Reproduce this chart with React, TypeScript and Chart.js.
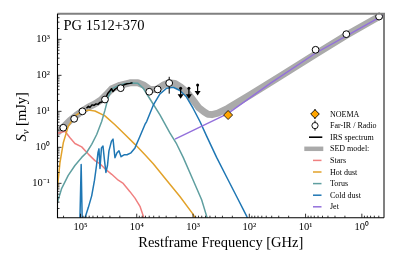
import React, { useEffect, useRef } from "react";
import { Chart, registerables } from "chart.js";

Chart.register(...registerables);

const FONT = "'Liberation Serif', 'Times New Roman', serif";

// ---------------- data: rest-frame frequency [GHz], flux density [mJy] ----------------
const X_TICK_EXPONENTS = [0, 1, 2, 3, 4, 5];
const Y_TICK_EXPONENTS = [-1, 0, 1, 2, 3];
const X_MIN = 0.404;
const X_MAX = 256000;
const Y_MIN = 0.0111;
const Y_MAX = 5120;

const OBJECT_NAME = "PG 1512+370";
const X_TITLE = "Restframe Frequency [GHz]";
const LEGEND_LABELS = ["NOEMA", "Far-IR / Radio", "IRS spectrum", "SED model:", "Stars", "Hot dust", "Torus", "Cold dust", "Jet"];

const FIR_FREQ = [202000, 129500, 92300, 36700, 19300, 6000, 4240, 2650, 6.64, 1.89, 0.494];
const FIR_FLUX = [3.5, 6.2, 10.0, 21.3, 44, 35, 40.6, 61, 512, 1390, 4300];
const FIR_ERR = [0.3, 0.5, 0.8, 1.5, 3, 3, 3, 30, 25, 60, 200];

const ULIM_FREQ = [1660, 1184, 829];
const ULIM_FLUX = [43.8, 43.8, 53.8];

const NOEMA_FREQ = [238];
const NOEMA_FLUX = [7.9];
const NOEMA_ERR = [0.8];

const IRS_FREQ = [78200, 72200, 67800, 62500, 57500, 53000, 48900, 45000, 41600, 39000, 36700, 34500, 32500, 29900, 28100, 26400, 24800, 22900, 21100, 19000, 16800, 14900, 13200, 11900];
const IRS_FLUX = [12.1, 13.8, 12.9, 15.1, 14.7, 16.1, 15.6, 17.7, 18.2, 20.0, 22.7, 26.5, 32.0, 37.4, 42.5, 35.2, 39.9, 43.8, 48.1, 49.7, 54.5, 58.1, 59.8, 61.8];

const SED_FREQ = [280000, 254000, 204000, 153500, 120000, 94200, 73500, 55300, 43200, 35300, 27600, 19900, 13200, 9540, 7440, 5820, 4380, 3425, 2680, 2093, 1640, 1284, 1003, 786, 639, 543, 461, 361, 241, 97.6, 28.6, 6.57, 1.92, 0.38];
const SED_FLUX = [2.3, 2.62, 3.58, 5.56, 7.59, 10.1, 12.9, 16.1, 20.7, 28.2, 42.5, 52.8, 61.8, 61.8, 52.8, 39.9, 41.1, 52.8, 61.8, 59.8, 46.6, 34.1, 20.7, 12.5, 9.75, 8.34, 8.09, 8.87, 12.1, 28.2, 92.7, 391, 1285, 5400];

const STARS_FREQ = [280000, 254000, 188500, 153500, 125500, 95200, 72600, 55300, 45000, 36700, 27850, 21300, 17400, 13200, 10750, 8760, 7660, 7150];
const STARS_FLUX = [2.3, 2.46, 2.79, 1.84, 1.28, 1.03, 0.649, 0.427, 0.348, 0.254, 0.178, 0.122, 0.0993, 0.0587, 0.0389, 0.023, 0.0123, 0.0079];

const HOT_FREQ = [269000, 254000, 231000, 202000, 165000, 125500, 95200, 72600, 55300, 36700, 24400, 16200, 10750, 7350, 5090, 2945, 1710, 994, 834];
const HOT_FLUX = [0.03, 0.0893, 0.384, 1.34, 3.82, 7.45, 9.75, 10.8, 10.2, 7.45, 4.25, 2.27, 1.21, 0.649, 0.348, 0.122, 0.043, 0.0137, 0.0079];

const TORUS_FREQ = [280000, 254000, 215500, 165000, 125500, 95200, 77700, 63200, 51500, 42000, 36700, 32000, 27850, 21300, 16200, 12300, 9540, 7660, 5820, 3870, 2580, 1955, 1495, 994, 703, 573, 525];
const TORUS_FLUX = [0.02, 0.0314, 0.0726, 0.167, 0.313, 0.525, 0.718, 1.21, 2.27, 5.21, 10.8, 24.9, 41.9, 51.9, 58.1, 61.0, 59.8, 43.8, 22.0, 7.93, 2.51, 1.24, 0.525, 0.122, 0.0349, 0.0123, 0.0079];

const COLD_FREQ = [104100, 97200, 92200, 84800, 72600, 63200, 56300, 51900, 48900, 46900, 45000, 42400, 39800, 37400, 35300, 33100, 31200, 28100, 26400, 24400, 22400, 20700, 19000, 16800, 14900, 12650, 10750, 8760, 7150, 6670, 5090, 3870, 2945, 2250, 1710, 1305, 994, 753, 573, 381, 253, 168, 111.5, 97.6];
const COLD_FLUX = [0.00286, 0.333, 0.0039, 0.01, 0.0212, 0.0449, 0.122, 0.313, 0.705, 0.906, 0.259, 0.964, 1.09, 0.427, 0.201, 0.313, 0.798, 1.49, 1.69, 0.515, 0.705, 0.798, 0.548, 0.621, 0.621, 0.705, 0.964, 2.04, 4.33, 5.21, 14.8, 30.6, 43.8, 46.6, 37.9, 24.9, 12.0, 5.21, 2.04, 0.525, 0.150, 0.043, 0.0123, 0.0069];

const JET_FREQ = [2093, 241, 42.5, 6.57, 0.38];
const JET_FLUX = [1.69, 8.6, 59.8, 417, 5050];

// ---------------- styling ----------------
const C_STARS = "#f08080";
const C_HOT = "#e2a22a";
const C_TORUS = "#5f9fa0";
const C_COLD = "#1f77b4";
const C_JET = "#9370db";
const C_SED = "#aaaaaa";
const C_NOEMA = "#ffa500";

const pts = (xs: number[], ys: number[]) => xs.map((x, i) => ({ x, y: ys[i] }));
const SUP = "⁻⁰¹²³⁴⁵⁶⁷⁸⁹";
const toSup = (s: string) => s.replace(/[-0-9]/g, (c) => SUP["-0123456789".indexOf(c)]);
const powLabel = (v: number) => "10" + toSup(String(Math.round(Math.log10(v))));

const lineDs = (label: string, xs: number[], ys: number[], color: string, width: number) => ({
  label,
  data: pts(xs, ys),
  showLine: true,
  borderColor: color,
  backgroundColor: color,
  borderWidth: width,
  pointRadius: 0,
  pointHoverRadius: 0,
  tension: 0,
  clip: 0,
  borderJoinStyle: "round" as const,
});

const overlayPlugin = {
  id: "overlay",
  beforeDatasetDraw(chart: any, args: any) {
    const ds = chart.data.datasets[args.index];
    const ctx = chart.ctx;
    const xs = chart.scales.x;
    const ys = chart.scales.y;
    ctx.save();
    ctx.strokeStyle = "#000";
    ctx.fillStyle = "#000";
    ctx.lineWidth = 1;
    const bars = (fx: number[], fy: number[], fe: number[]) => {
      fx.forEach((f, i) => {
        const px = xs.getPixelForValue(f);
        const y1 = ys.getPixelForValue(fy[i] + fe[i]);
        const y2 = ys.getPixelForValue(Math.max(fy[i] - fe[i], Y_MIN));
        ctx.beginPath();
        ctx.moveTo(px, y1);
        ctx.lineTo(px, y2);
        ctx.stroke();
      });
    };
    if (ds.label === "Far-IR / Radio") bars(FIR_FREQ, FIR_FLUX, FIR_ERR);
    if (ds.label === "NOEMA") bars(NOEMA_FREQ, NOEMA_FLUX, NOEMA_ERR);
    if (ds.label === "upper limits") {
      ULIM_FREQ.forEach((f, i) => {
        const px = xs.getPixelForValue(f);
        const py = ys.getPixelForValue(ULIM_FLUX[i]);
        ctx.lineWidth = 1.2;
        ctx.beginPath();
        ctx.moveTo(px, py);
        ctx.lineTo(px, py + 7);
        ctx.stroke();
        ctx.beginPath();
        ctx.moveTo(px - 3, py + 6);
        ctx.lineTo(px + 3, py + 6);
        ctx.lineTo(px, py + 10.5);
        ctx.closePath();
        ctx.fill();
      });
    }
    ctx.restore();
  },
  afterDatasetsDraw(chart: any) {
    const ctx = chart.ctx;
    const { left, right, top, bottom } = chart.chartArea;
    const xs = chart.scales.x;
    const ys = chart.scales.y;
    ctx.save();
    // ticks (inward)
    ctx.strokeStyle = "#000";
    ctx.lineWidth = 0.8;
    const xExp = [Math.floor(Math.log10(X_MIN)), Math.ceil(Math.log10(X_MAX))];
    for (let e = xExp[0]; e <= xExp[1]; e++) {
      for (let m = 1; m <= 9; m++) {
        const v = m * Math.pow(10, e);
        if (v < X_MIN || v > X_MAX) continue;
        const px = xs.getPixelForValue(v);
        const len = m === 1 ? 4 : 2;
        ctx.beginPath();
        ctx.moveTo(px, bottom);
        ctx.lineTo(px, bottom - len);
        ctx.stroke();
      }
    }
    const yExp = [Math.floor(Math.log10(Y_MIN)), Math.ceil(Math.log10(Y_MAX))];
    for (let e = yExp[0]; e <= yExp[1]; e++) {
      for (let m = 1; m <= 9; m++) {
        const v = m * Math.pow(10, e);
        if (v < Y_MIN || v > Y_MAX) continue;
        const py = ys.getPixelForValue(v);
        const len = m === 1 ? 4 : 2;
        ctx.beginPath();
        ctx.moveTo(left, py);
        ctx.lineTo(left + len, py);
        ctx.stroke();
      }
    }
    // frame
    ctx.strokeStyle = "#808080";
    ctx.lineWidth = 2;
    ctx.beginPath();
    ctx.moveTo(left, top);
    ctx.lineTo(right, top);
    ctx.lineTo(right, bottom);
    ctx.stroke();
    ctx.strokeStyle = "#000";
    ctx.lineWidth = 1.1;
    ctx.beginPath();
    ctx.moveTo(left, top);
    ctx.lineTo(left, bottom);
    ctx.lineTo(right, bottom);
    ctx.stroke();
    ctx.restore();
  },
  afterDraw(chart: any) {
    const ctx = chart.ctx;
    const { left, top, bottom } = chart.chartArea;
    ctx.save();
    ctx.fillStyle = "#000";
    // object name
    ctx.font = `14.5px ${FONT}`;
    ctx.textBaseline = "alphabetic";
    ctx.textAlign = "left";
    ctx.fillText(OBJECT_NAME, left + 6, top + 16);

    // y-axis title: S_nu [mJy]
    const bigF = `italic 14.5px ${FONT}`;
    const subF = `italic 10.5px ${FONT}`;
    const restF = `14.5px ${FONT}`;
    ctx.font = bigF;
    const wS = ctx.measureText("S").width;
    ctx.font = subF;
    const wN = ctx.measureText("ν").width;
    ctx.font = restF;
    const wR = ctx.measureText(" [mJy]").width;
    const total = wS + wN + wR;
    ctx.translate(26, (top + bottom) / 2 + 1);
    ctx.rotate(-Math.PI / 2);
    let x0 = -total / 2;
    ctx.font = bigF;
    ctx.fillText("S", x0, 0);
    x0 += wS;
    ctx.font = subF;
    ctx.fillText("ν", x0, 3);
    x0 += wN;
    ctx.font = restF;
    ctx.fillText(" [mJy]", x0, 0);
    ctx.restore();

    // legend
    ctx.save();
    const MX = 315;
    const TX = 330;
    const Y0 = 114;
    const DY = 11.6;
    const kinds = [
      { t: "diamond", c: C_NOEMA },
      { t: "circle", c: "#fff" },
      { t: "line", c: "#000", w: 1.6, a: 309, b: 322.3 },
      { t: "line", c: C_SED, w: 4.5, a: 304.3, b: 323.3 },
      { t: "line", c: C_STARS, w: 1.5, a: 313, b: 321.5 },
      { t: "line", c: C_HOT, w: 1.5, a: 313, b: 321.5 },
      { t: "line", c: C_TORUS, w: 1.5, a: 313, b: 321.5 },
      { t: "line", c: C_COLD, w: 1.5, a: 313, b: 321.5 },
      { t: "line", c: C_JET, w: 1.5, a: 313, b: 321.5 },
    ];
    LEGEND_LABELS.forEach((lab, i) => {
      const y = Y0 + i * DY;
      const k: any = kinds[i];
      if (k.t === "line") {
        ctx.strokeStyle = k.c;
        ctx.lineWidth = k.w;
        ctx.beginPath();
        ctx.moveTo(k.a, y);
        ctx.lineTo(k.b, y);
        ctx.stroke();
      } else {
        ctx.strokeStyle = "#000";
        ctx.lineWidth = 1;
        ctx.beginPath();
        ctx.moveTo(MX, y - 5);
        ctx.lineTo(MX, y + 5);
        ctx.stroke();
        ctx.fillStyle = k.c;
        ctx.lineWidth = 0.9;
        ctx.beginPath();
        if (k.t === "diamond") {
          ctx.moveTo(MX, y - 4.3);
          ctx.lineTo(MX + 4.3, y);
          ctx.lineTo(MX, y + 4.3);
          ctx.lineTo(MX - 4.3, y);
          ctx.closePath();
        } else {
          ctx.arc(MX, y, 3.1, 0, Math.PI * 2);
        }
        ctx.fill();
        ctx.stroke();
      }
      ctx.fillStyle = "#000";
      ctx.font = `8px ${FONT}`;
      ctx.textAlign = "left";
      ctx.textBaseline = "middle";
      ctx.fillText(lab, TX, y + 0.5);
    });
    ctx.restore();
  },
};

export default function App() {
  const ref = useRef<HTMLCanvasElement>(null);
  useEffect(() => {
    const datasets: any[] = [
      {
        label: "NOEMA",
        data: pts(NOEMA_FREQ, NOEMA_FLUX),
        pointStyle: "rectRot",
        pointRadius: 4.5,
        backgroundColor: C_NOEMA,
        borderColor: "#000",
        borderWidth: 0.8,
        clip: false,
      },
      {
        label: "Far-IR / Radio",
        data: pts(FIR_FREQ, FIR_FLUX),
        pointStyle: "circle",
        pointRadius: 3.4,
        backgroundColor: "#fff",
        borderColor: "#000",
        borderWidth: 1,
        clip: false,
      },
      {
        label: "upper limits",
        data: pts(ULIM_FREQ, ULIM_FLUX),
        pointStyle: "circle",
        pointRadius: 1.5,
        backgroundColor: "#000",
        borderColor: "#000",
        borderWidth: 0,
        clip: false,
      },
      lineDs("IRS spectrum", IRS_FREQ, IRS_FLUX, "#000", 1.5),
      lineDs("Jet", JET_FREQ, JET_FLUX, C_JET, 1.4),
      lineDs("Cold dust", COLD_FREQ, COLD_FLUX, C_COLD, 1.5),
      lineDs("Torus", TORUS_FREQ, TORUS_FLUX, C_TORUS, 1.5),
      lineDs("Hot dust", HOT_FREQ, HOT_FLUX, C_HOT, 1.5),
      lineDs("Stars", STARS_FREQ, STARS_FLUX, C_STARS, 1.5),
      lineDs("SED model", SED_FREQ, SED_FLUX, C_SED, 7),
    ];
    const chart = new Chart(ref.current as HTMLCanvasElement, {
      type: "scatter",
      data: { datasets },
      options: {
        animation: false,
        responsive: false,
        devicePixelRatio: 1,
        events: [],
        layout: { padding: { left: 0, right: 11, top: 10, bottom: 0 } },
        plugins: { legend: { display: false }, tooltip: { enabled: false }, title: { display: false } },
        scales: {
          x: {
            type: "logarithmic",
            position: "bottom",
            min: X_MIN,
            max: X_MAX,
            reverse: true,
            grid: { display: false, drawTicks: false },
            border: { display: false },
            afterBuildTicks: (s: any) => {
              s.ticks = X_TICK_EXPONENTS.map((e) => ({ value: Math.pow(10, e) }));
            },
            afterFit: (s: any) => {
              s.height = 263 - 217.7;
            },
            ticks: {
              callback: (v: any) => powLabel(Number(v)),
              font: { family: FONT, size: 10.5 },
              color: "#000",
              padding: 3,
              autoSkip: false,
              maxRotation: 0,
              minRotation: 0,
            },
            title: {
              display: true,
              text: X_TITLE,
              font: { family: FONT, size: 14.5 },
              color: "#000",
              padding: { top: 0, bottom: 11.5 },
            },
          },
          y: {
            type: "logarithmic",
            position: "left",
            min: Y_MIN,
            max: Y_MAX,
            grid: { display: false, drawTicks: false },
            border: { display: false },
            afterBuildTicks: (s: any) => {
              s.ticks = Y_TICK_EXPONENTS.map((e) => ({ value: Math.pow(10, e) }));
            },
            afterFit: (s: any) => {
              s.width = 57.5;
            },
            ticks: {
              callback: (v: any) => powLabel(Number(v)),
              font: { family: FONT, size: 10.5 },
              color: "#000",
              padding: 7.5,
              autoSkip: false,
            },
          },
        },
      } as any,
      plugins: [overlayPlugin],
    });
    return () => chart.destroy();
  }, []);
  return (
    <div style={{ position: "absolute", left: 0, top: 0, width: 395, height: 263, background: "#fff" }}>
      <canvas ref={ref} width={395} height={263} style={{ display: "block", width: 395, height: 263 }} />
    </div>
  );
}
